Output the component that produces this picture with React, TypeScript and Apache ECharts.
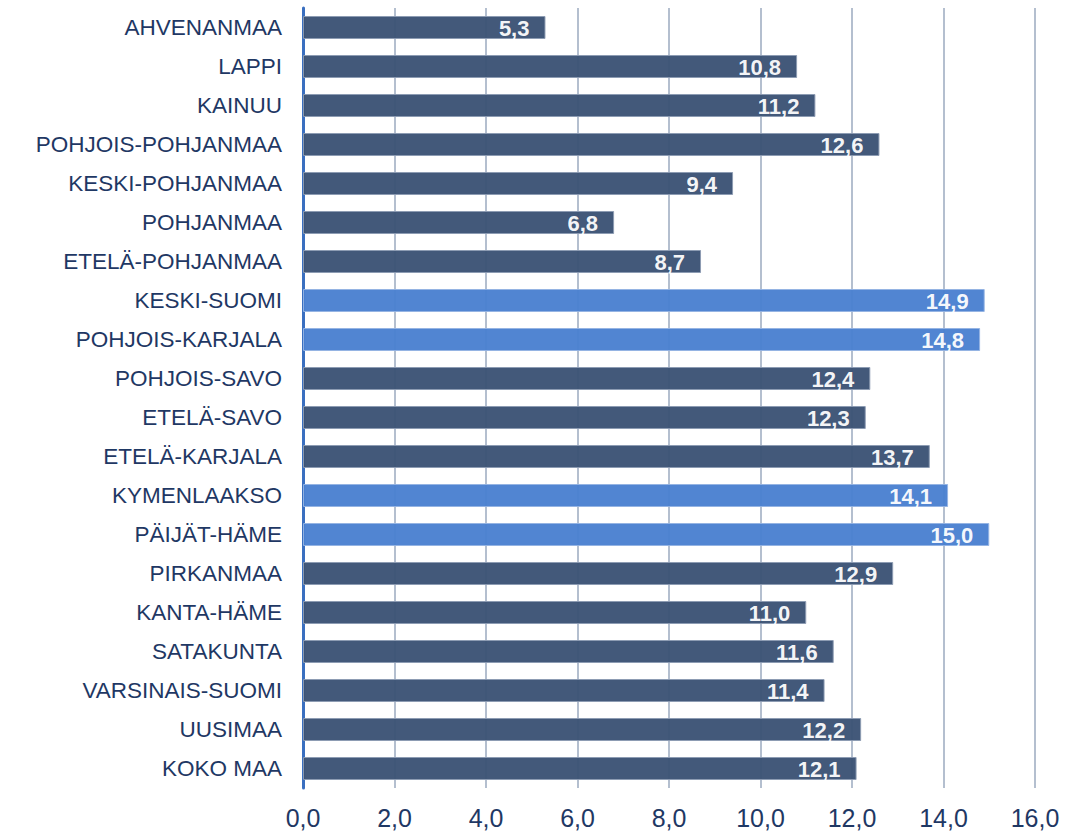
import React, { useEffect, useRef } from "react";
import * as echarts from "echarts";

const categories = [
  "AHVENANMAA", "LAPPI", "KAINUU", "POHJOIS-POHJANMAA", "KESKI-POHJANMAA",
  "POHJANMAA", "ETELÄ-POHJANMAA", "KESKI-SUOMI", "POHJOIS-KARJALA", "POHJOIS-SAVO",
  "ETELÄ-SAVO", "ETELÄ-KARJALA", "KYMENLAAKSO", "PÄIJÄT-HÄME", "PIRKANMAA",
  "KANTA-HÄME", "SATAKUNTA", "VARSINAIS-SUOMI", "UUSIMAA", "KOKO MAA",
];
const values = [
  5.3, 10.8, 11.2, 12.6, 9.4, 6.8, 8.7, 14.9, 14.8, 12.4,
  12.3, 13.7, 14.1, 15.0, 12.9, 11.0, 11.6, 11.4, 12.2, 12.1,
];
const highlighted = ["KESKI-SUOMI", "POHJOIS-KARJALA", "KYMENLAAKSO", "PÄIJÄT-HÄME"];

const fmt = (v: number) => v.toFixed(1).replace(".", ",");

export default function App() {
  const ref = useRef<HTMLDivElement>(null);
  useEffect(() => {
    if (!ref.current) return;
    const chart = echarts.init(ref.current, undefined, { renderer: "svg" });
    const font = "'Liberation Sans', Arial, sans-serif";
    chart.setOption({
      animation: false,
      backgroundColor: "#ffffff",
      grid: { left: 303, right: 54, top: 8, bottom: 44, containLabel: false },
      xAxis: {
        type: "value",
        min: 0,
        max: 16,
        interval: 2,
        axisLine: { show: false },
        axisTick: { show: false },
        splitLine: { show: true, lineStyle: { color: "#b4bfcf", width: 2 } },
        axisLabel: {
          formatter: (v: number) => fmt(v),
          color: "#1f3864",
          fontFamily: font,
          fontSize: 25,
          margin: 17,
        },
      },
      yAxis: {
        type: "category",
        data: categories,
        inverse: true,
        axisLine: { show: true, lineStyle: { color: "#3a6fc0", width: 3 } },
        axisTick: { show: false },
        axisLabel: {
          color: "#1f3864",
          fontFamily: font,
          fontSize: 22.5,
          margin: 21,
        },
      },
      series: [
        {
          type: "bar",
          barWidth: 23,
          z: 1,
          data: values.map((v, i) => {
            const hi = highlighted.includes(categories[i]);
            return {
              value: v,
              itemStyle: {
                color: hi ? "#4a80d0" : "#3b5275",
                borderColor: hi ? "#94b3e3" : "#8d9bb2",
                borderWidth: 1,
                opacity: 0.96,
              },
            };
          }),
          label: {
            show: true,
            position: "insideRight",
            offset: [-11, 1],
            formatter: (p: any) => fmt(p.value),
            color: "#ffffff",
            fontFamily: font,
            fontWeight: "bold",
            fontSize: 22,
          },
        },
      ],
    });
    return () => chart.dispose();
  }, []);
  return (
    <div
      ref={ref}
      style={{ position: "absolute", left: 0, top: 0, width: 1089, height: 832 }}
    />
  );
}
